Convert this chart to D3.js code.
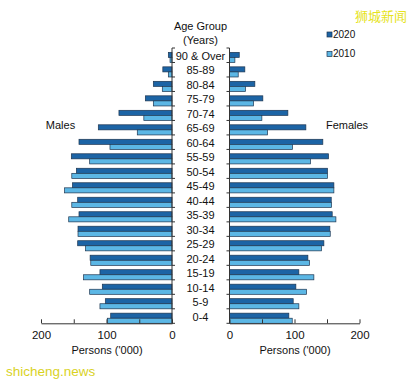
<!DOCTYPE html>
<html><head><meta charset="utf-8">
<script src="https://cdn.jsdelivr.net/npm/d3@7"></script>
<style>body{margin:0;background:#fff}svg{display:block;font-family:"Liberation Sans",Arial,sans-serif}</style>
</head><body>
<script>
const ageGroups = ["90 & Over","85-89","80-84","75-79","70-74","65-69","60-64","55-59","50-54","45-49","40-44","35-39","30-34","25-29","20-24","15-19","10-14","5-9","0-4"];
const males2020 = [5.6,14,28.5,40.7,81,112.5,142,153.7,146,152,144,142,143.5,144,125,110,106.4,101.8,93.6];
const males2010 = [3,5.6,14.8,28.5,43,53,94.7,125.7,153,164,153,157.7,143.5,132,124,135,125.7,110,98.8];
const females2020 = [15,23.6,39,51.3,89.8,117.5,143.6,152.3,150.8,160.6,156.5,158,154.4,145.2,120.6,106.7,102.1,98,91.3];
const females2010 = [8.3,13.4,24.7,37,49.8,58.5,97,124.6,150.8,160.6,157,163.7,155,141.5,123,129.8,118.5,106.7,96.5];
const years = ["2020","2010"];
const xTicks = [0,50,100,150,200];
const xTickLabels = [0,100,200];

const W = 417, H = 381;
const svg = d3.select("body").append("svg").attr("width", W).attr("height", H);
const colors = {"2020":"#1c64a5","2010":"#5cb7e5"};
const strokeCol = "#1d3550";
const FS = 11;

const xL = d3.scaleLinear().domain([0,200]).range([172,41]);
const xR = d3.scaleLinear().domain([0,200]).range([229.5,359.5]);
const y = d3.scaleBand().domain(ageGroups).range([48,323.3]).padding(0);
const bw = y.bandwidth();
const yInner = d3.scaleBand().domain(years).range([bw*0.3, bw]).padding(0);

const rows = ageGroups.map((g,i)=>({g, m2020:males2020[i], m2010:males2010[i], f2020:females2020[i], f2010:females2010[i]}));

function drawSide(xs, key, left) {
  years.forEach(yr => {
    svg.append("g").selectAll("rect").data(rows).join("rect")
      .attr("x", d => left ? xs(d[key+yr]) : xs(0))
      .attr("width", d => Math.abs(xs(d[key+yr]) - xs(0)))
      .attr("y", d => y(d.g) + yInner(yr))
      .attr("height", yInner.bandwidth())
      .attr("fill", colors[yr])
      .attr("stroke", strokeCol).attr("stroke-width", 0.7);
  });
}
drawSide(xL, "m", true);
drawSide(xR, "f", false);

function vAxis(x, dir) {
  const g = svg.append("g");
  g.append("line").attr("x1",x).attr("x2",x).attr("y1",y.range()[0]).attr("y2",y.range()[1]).attr("stroke","#333").attr("stroke-width",1);
  const bounds = ageGroups.map(a=>y(a)).concat([y.range()[1]]);
  g.selectAll("line.t").data(bounds).join("line").attr("class","t")
    .attr("x1",x).attr("x2",x+dir*3).attr("y1",d=>d).attr("y2",d=>d)
    .attr("stroke","#333").attr("stroke-width",1);
}
vAxis(172, 1);
vAxis(229.5, -1);

function hAxis(xs) {
  const ax = d3.axisBottom(xs).tickValues(xTicks).tickSize(-4).tickSizeOuter(0)
    .tickFormat(d => xTickLabels.includes(d) ? d : "");
  const g = svg.append("g").attr("transform","translate(0,323.3)").call(ax);
  g.select(".domain").attr("stroke","#333");
  g.selectAll(".tick line").attr("stroke","#333");
  g.selectAll(".tick text").attr("y",8).attr("dy","0.71em").attr("font-size",11.5).attr("fill","#111")
    .attr("font-family","Liberation Sans, Arial, sans-serif");
}
hAxis(xL);
hAxis(xR);

svg.append("g").selectAll("text").data(ageGroups).join("text")
  .attr("x",200.5).attr("y",d=>y(d)+12).attr("text-anchor","middle")
  .attr("font-size",FS).attr("fill","#111").text(d=>d);

const txt = (x,yy,s,opts={}) => svg.append("text").attr("x",x).attr("y",yy).attr("text-anchor",opts.anchor||"middle")
  .attr("font-size",opts.size||FS).attr("fill",opts.fill||"#111").attr("font-family",opts.family||null).text(s);

txt(200.5,29.5,"Age Group");
txt(200.5,43.5,"(Years)");
txt(60.5,129,"Males");
txt(347,129,"Females");
txt(107,354,"Persons ('000)");
txt(295,354,"Persons ('000)");

years.forEach((yr,i)=>{
  const ly = 32 + i*19.5;
  svg.append("rect").attr("x",327).attr("y",ly).attr("width",5).attr("height",5)
    .attr("fill",colors[yr]).attr("stroke",strokeCol).attr("stroke-width",0.7);
  txt(333,ly+5.5,yr,{anchor:"start",size:10});
});

txt(381,21,"狮城新闻",{size:13,fill:"#e6e31c",family:"Noto Sans CJK SC"});
txt(6,376,"shicheng.news",{anchor:"start",size:13.5,fill:"#d9d21f",family:"Liberation Sans, Arial, sans-serif"});
</script>
</body></html>
